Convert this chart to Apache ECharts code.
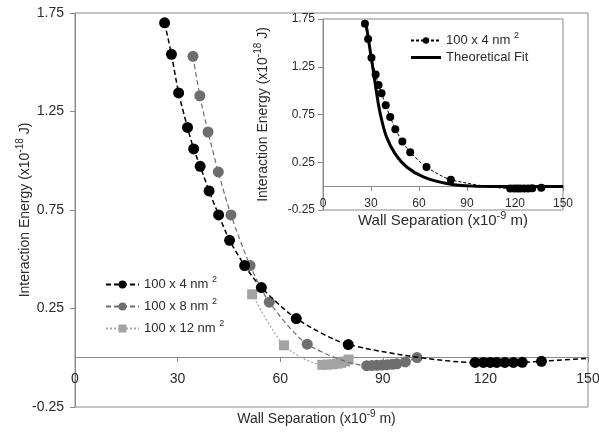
<!DOCTYPE html>
<html>
<head>
<meta charset="utf-8">
<script src="https://cdn.jsdelivr.net/npm/echarts@6/dist/echarts.min.js"></script>
<style>
  html, body { margin: 0; padding: 0; background: #fff; }
  #chart { width: 599px; height: 436px; }
</style>
</head>
<body>
<div id="chart"></div>
<script>
// 100 x 4 nm2 (main + inset)
var sep4 = [26.2, 28.2, 30.3, 32.9, 34.7, 36.6, 39.2, 42.0, 45.2, 49.6, 54.5, 64.7, 79.9,
            117.0, 119.4, 121.4, 123.3, 125.7, 128.2, 130.8, 136.4];
var energy4 = [1.70, 1.54, 1.344, 1.169, 1.06, 0.972, 0.847, 0.725, 0.596, 0.468, 0.356, 0.199, 0.067,
               -0.024, -0.024, -0.024, -0.024, -0.024, -0.024, -0.023, -0.018];
// end of the dashed line (no marker)
var tail4 = [150, -0.003];

// 100 x 8 nm2
var sep8 = [34.5, 36.5, 38.9, 41.9, 45.6, 51.2, 56.8, 67.9, 85.3, 86.8, 88.3, 89.8, 91.3, 92.8, 94.1, 96.6, 100.0];
var energy8 = [1.53, 1.33, 1.146, 0.943, 0.725, 0.468, 0.282, 0.069, -0.040, -0.039, -0.038, -0.037, -0.035, -0.033, -0.031, -0.021, 0.001];

// 100 x 12 nm2
var sep12 = [51.8, 61.1, 72.3, 73.8, 75.3, 76.6, 77.8, 79.0, 80.0];
var energy12 = [0.322, 0.063, -0.036, -0.035, -0.033, -0.030, -0.026, -0.019, -0.009];

// theoretical fit (inset)
var fitSep = [26.9, 31.4, 34.6, 36.7, 39.8, 45.0, 52.3, 62.7, 77.3, 93.8, 110, 130, 150];
var fitEnergy = [1.70, 1.21, 0.86, 0.69, 0.51, 0.34, 0.20, 0.097, 0.028, 0.0, -0.004, -0.005, -0.005];

// axis ranges
var xMin = 0, xMax = 150, xStep = 30;
var yMin = -0.25, yMax = 1.75, yStep = 0.5;

var font = 'Liberation Sans, Arial, sans-serif';
var textColor = '#2b2b2b';
var axisColor = '#8a8a8a';

function pairs(xs, ys) {
  return xs.map(function (x, i) { return [x, ys[i]]; });
}

function richOf(size) {
  return {
    n: { fontFamily: font, fontSize: size, color: textColor, lineHeight: size + 6 },
    sup: { fontFamily: font, fontSize: size - 4, color: textColor, verticalAlign: 'top', lineHeight: size - 2 }
  };
}

// hidden x axis that only provides the scale for the data
function dataXAxis(grid) {
  return {
    gridIndex: grid, type: 'value', min: xMin, max: xMax, interval: xStep,
    axisLine: { show: false }, axisTick: { show: false }, axisLabel: { show: false },
    splitLine: { show: false }
  };
}
// visible x axis drawn on the y = 0 line (in its own grid whose bottom is the zero line)
function zeroXAxis(grid, labelSize, nameSize, nameGap, margin, pad) {
  return {
    gridIndex: grid, type: 'value', min: xMin, max: xMax, interval: xStep,
    axisLine: { onZero: false, lineStyle: { color: axisColor, width: 1 } },
    axisTick: { show: true, length: 5, lineStyle: { color: axisColor } },
    splitLine: { show: false },
    axisLabel: { fontFamily: font, fontSize: labelSize, color: textColor, margin: margin },
    name: '{n|Wall Separation (x10}{sup|-9}{n| m)}',
    nameLocation: 'middle', nameGap: nameGap, nameMoveOverlap: false,
    nameTextStyle: { rich: richOf(nameSize), padding: pad }
  };
}
function yAxisOf(grid, labelSize, nameSize, nameGap, margin) {
  return {
    gridIndex: grid, type: 'value', min: yMin, max: yMax, interval: yStep,
    axisLine: { show: true, onZero: false, lineStyle: { color: axisColor, width: 1 } },
    axisTick: { show: true, length: 5, lineStyle: { color: axisColor } },
    splitLine: { show: false },
    axisLabel: { fontFamily: font, fontSize: labelSize, color: textColor, margin: margin },
    name: '{n|Interaction Energy (x10}{sup|-18}{n| J)}',
    nameLocation: 'middle', nameGap: nameGap, nameMoveOverlap: false,
    nameTextStyle: { rich: richOf(nameSize) }
  };
}
function hiddenYAxis(grid) {
  return { gridIndex: grid, type: 'value', min: yMin, max: yMax, show: false };
}

function legendName(name) {
  var s = name.replace(' (inset)', '');
  if (s.indexOf('nm2') >= 0) return '{n|' + s.replace('nm2', 'nm') + ' }{sup|2}';
  return '{n|' + s + '}';
}

var chart = echarts.init(document.getElementById('chart'));
chart.setOption({
  backgroundColor: '#fff',
  animation: false,
  grid: [
    // main plot
    { left: 75, top: 13, right: 11, bottom: 29, show: true, borderColor: axisColor, borderWidth: 1,
      outerBoundsMode: 'none', containLabel: false },
    // inset plot
    { left: 323, top: 19, right: 36, bottom: 226, show: true, borderColor: axisColor, borderWidth: 1,
      backgroundColor: '#fff', outerBoundsMode: 'none', containLabel: false },
    // main zero-line x axis
    { left: 75, top: 13, right: 11, bottom: 79, show: false, outerBoundsMode: 'none', containLabel: false },
    // inset zero-line x axis
    { left: 323, top: 19, right: 36, bottom: 250, show: false, outerBoundsMode: 'none', containLabel: false }
  ],
  xAxis: [
    dataXAxis(0),
    dataXAxis(1),
    zeroXAxis(2, 14, 14, 52, 15, [0, 30, 0, 0]),
    zeroXAxis(3, 12, 15, 24, 12, 0)
  ],
  yAxis: [
    yAxisOf(0, 14, 14, 40, 11),
    yAxisOf(1, 12, 14, 50, 8),
    hiddenYAxis(2),
    hiddenYAxis(3)
  ],
  legend: [
    {
      left: 105, top: 275, padding: 0, orient: 'vertical', itemWidth: 33, itemHeight: 10, itemGap: 6,
      data: ['100 x 4 nm2', '100 x 8 nm2', '100 x 12 nm2'],
      formatter: legendName,
      textStyle: { rich: richOf(13) }
    },
    {
      left: 410, top: 31, padding: 0, orient: 'vertical', itemWidth: 30, itemHeight: 8, itemGap: 4,
      data: ['100 x 4 nm2 (inset)',
             { name: 'Theoretical Fit', icon: 'path://M0,0L30,0L30,3L0,3Z', itemStyle: { color: '#000' } }],
      formatter: legendName,
      textStyle: { rich: richOf(13) }
    }
  ],
  series: [
    {
      name: '100 x 4 nm2', type: 'line', xAxisIndex: 0, yAxisIndex: 0,
      data: pairs(sep4, energy4).concat([{ value: tail4, symbol: 'none' }]),
      symbol: 'circle', symbolSize: 11, smooth: 0.25, z: 4,
      lineStyle: { color: '#000', width: 1.5, type: [5, 3] },
      itemStyle: { color: '#000' }
    },
    {
      name: '100 x 8 nm2', type: 'line', xAxisIndex: 0, yAxisIndex: 0,
      data: pairs(sep8, energy8),
      symbol: 'circle', symbolSize: 11, smooth: 0.25, z: 3,
      lineStyle: { color: '#6e6e6e', width: 1.2, type: [5, 3] },
      itemStyle: { color: '#6e6e6e' }
    },
    {
      name: '100 x 12 nm2', type: 'line', xAxisIndex: 0, yAxisIndex: 0,
      data: pairs(sep12, energy12),
      symbol: 'rect', symbolSize: 10, smooth: 0.25, z: 2,
      lineStyle: { color: '#a3a3a3', width: 1.2, type: [2, 2] },
      itemStyle: { color: '#a3a3a3' }
    },
    {
      name: '100 x 4 nm2 (inset)', type: 'line', xAxisIndex: 1, yAxisIndex: 1,
      data: pairs(sep4, energy4).concat([{ value: tail4, symbol: 'none' }]),
      symbol: 'circle', symbolSize: 8, smooth: 0.25, z: 4,
      lineStyle: { color: '#000', width: 1, type: [3, 2] },
      itemStyle: { color: '#000' }
    },
    {
      name: 'Theoretical Fit', type: 'line', xAxisIndex: 1, yAxisIndex: 1,
      data: pairs(fitSep, fitEnergy),
      symbol: 'none', smooth: 0.35, z: 3,
      lineStyle: { color: '#000', width: 3 },
      itemStyle: { color: '#000' }
    }
  ]
});
</script>
</body>
</html>
